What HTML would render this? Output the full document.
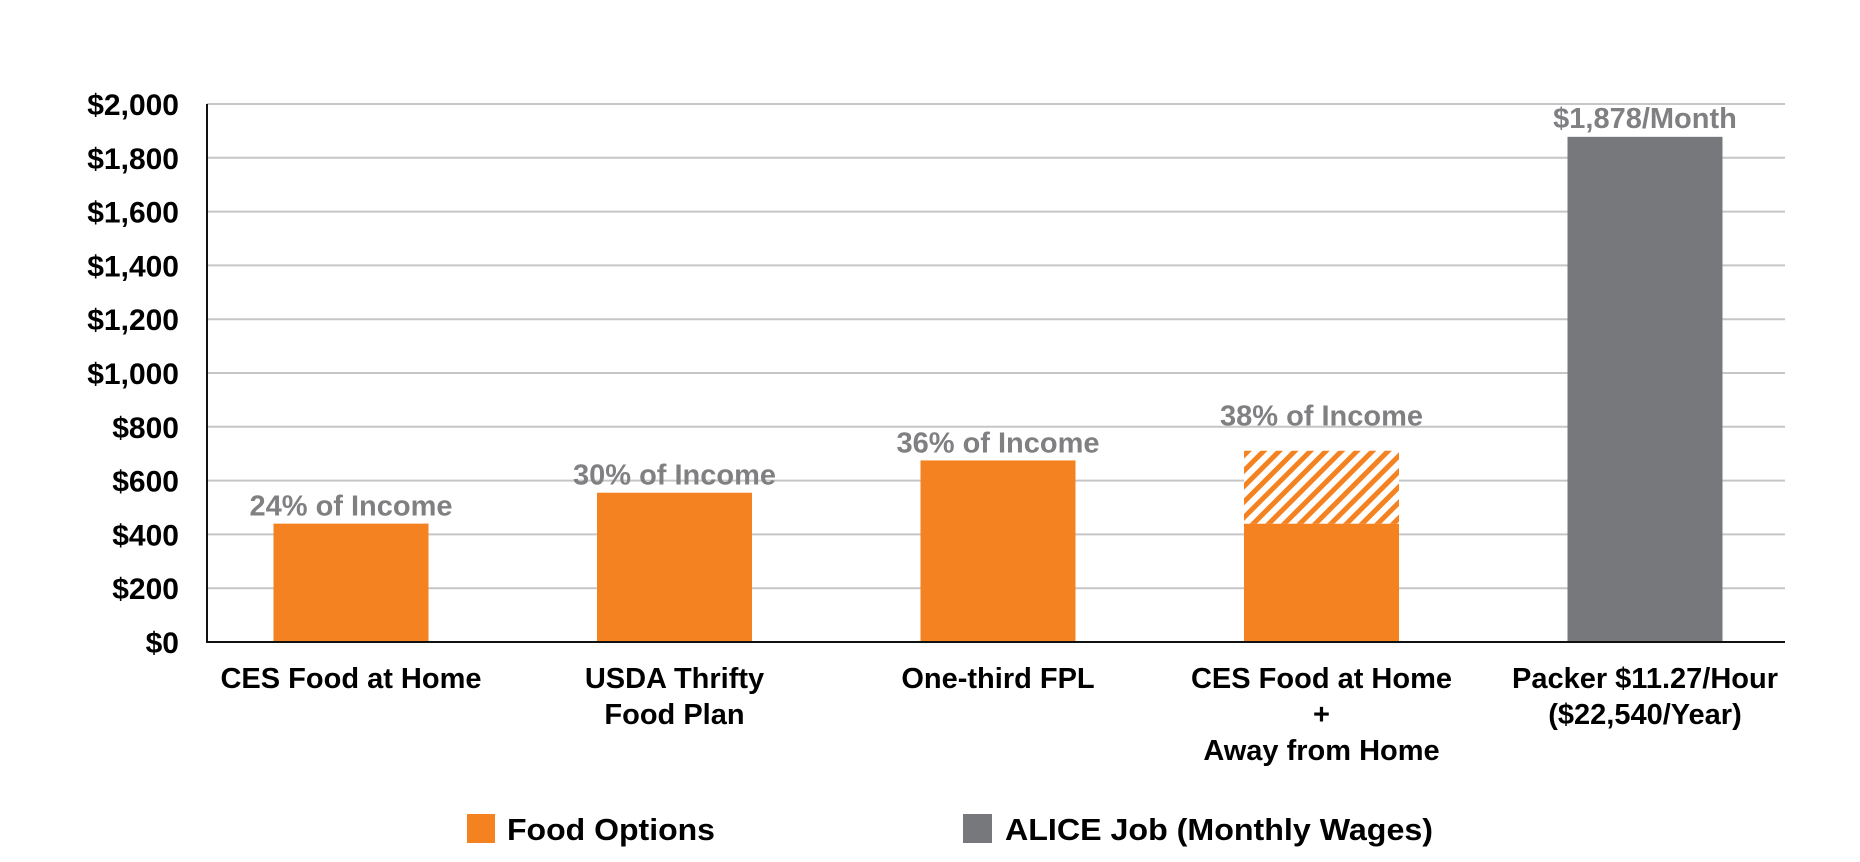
<!DOCTYPE html>
<html><head><meta charset="utf-8"><style>
html,body{margin:0;padding:0;background:#fff;width:1860px;height:862px;overflow:hidden}
svg text{font-family:"Liberation Sans",Arial,sans-serif;font-weight:bold}
</style></head><body>
<svg id="chart" width="1860" height="862" viewBox="0 0 1860 862" xmlns="http://www.w3.org/2000/svg">
<defs>
<pattern id="hatch" patternUnits="userSpaceOnUse" width="11" height="11" patternTransform="rotate(45)">
<rect width="11" height="11" fill="#fff"/><rect width="5" height="11" fill="#f58220"/>
</pattern>
</defs>
<g id="grid"></g><g id="bars"></g><g id="labels"></g><g id="axes"></g>
<g>
<rect x="467" y="814" width="28" height="29" fill="#f58220"/>
<text x="507" y="840" font-size="31" textLength="208" lengthAdjust="spacingAndGlyphs">Food Options</text>
<rect x="963" y="814" width="29" height="29" fill="#77787b"/>
<text x="1005" y="840" font-size="31" textLength="428" lengthAdjust="spacingAndGlyphs">ALICE Job (Monthly Wages)</text>
</g>
</svg>
<script>
const categories = [["CES Food at Home"],["USDA Thrifty","Food Plan"],["One-third FPL"],["CES Food at Home","+","Away from Home"],["Packer $11.27/Hour","($22,540/Year)"]];
const baseValues = [440, 555, 675, 440, 1878];
const extraValues = [0, 0, 0, 271, 0];
const valueLabels = ["24% of Income","30% of Income","36% of Income","38% of Income","$1,878/Month"];
const seriesType = ["food","food","food","food","job"];
const yTicks = [0,200,400,600,800,1000,1200,1400,1600,1800,2000];
const yTickLabels = ["$0","$200","$400","$600","$800","$1,000","$1,200","$1,400","$1,600","$1,800","$2,000"];

const NS="http://www.w3.org/2000/svg";
const y0=642, yTop=104, yMax=2000;
const y = v => y0 - (v/yMax)*(y0-yTop);
const xc = i => 351 + i*323.5;
const bw = 155;
function mk(tag, attrs, parent){const e=document.createElementNS(NS,tag);for(const k in attrs)e.setAttribute(k,attrs[k]);parent.appendChild(e);return e;}
const grid=document.getElementById('grid'), bars=document.getElementById('bars'), labels=document.getElementById('labels'), axes=document.getElementById('axes');

yTicks.forEach((t,i)=>{
  if(t>0){const l=mk('line',{x1:207,x2:1785,y1:y(t),y2:y(t),stroke:'#c6c6c8','stroke-width':2},grid);
  
  }
  const tx=mk('text',{x:179,y:y(t)+11,'font-size':30,'text-anchor':'end',fill:'#000'},axes);
  tx.textContent=yTickLabels[i];
  
  
});
const ax=mk('path',{d:'M207 '+yTop+' V'+y0+' H1785',fill:'none',stroke:'#111','stroke-width':2},axes);



categories.forEach((c,i)=>{
  const x=xc(i)-bw/2;
  const col=seriesType[i]==='job'?'#77787b':'#f58220';
  const b=mk('rect',{x:x,y:y(baseValues[i]),width:bw,height:y0-y(baseValues[i]),fill:col},bars);
  
  
  let top=baseValues[i];
  if(extraValues[i]>0){
    const h=mk('rect',{x:x,y:y(baseValues[i]+extraValues[i]),width:bw,height:y(baseValues[i])-y(baseValues[i]+extraValues[i]),fill:'url(#hatch)'},bars);
    
    
    top+=extraValues[i];
  }
  const gap=extraValues[i]>0?25:(seriesType[i]==='job'?9:8);
  const vl=mk('text',{x:xc(i),y:y(top)-gap,'font-size':29,'text-anchor':'middle',fill:'#808083'},labels);
  vl.textContent=valueLabels[i];
  
  
  c.forEach((line,j)=>{
    const t=mk('text',{x:xc(i),y:688+j*36,'font-size':29,'text-anchor':'middle',fill:'#000'},labels);
    t.textContent=line;
    
    
  });
});
</script>
</body></html>
